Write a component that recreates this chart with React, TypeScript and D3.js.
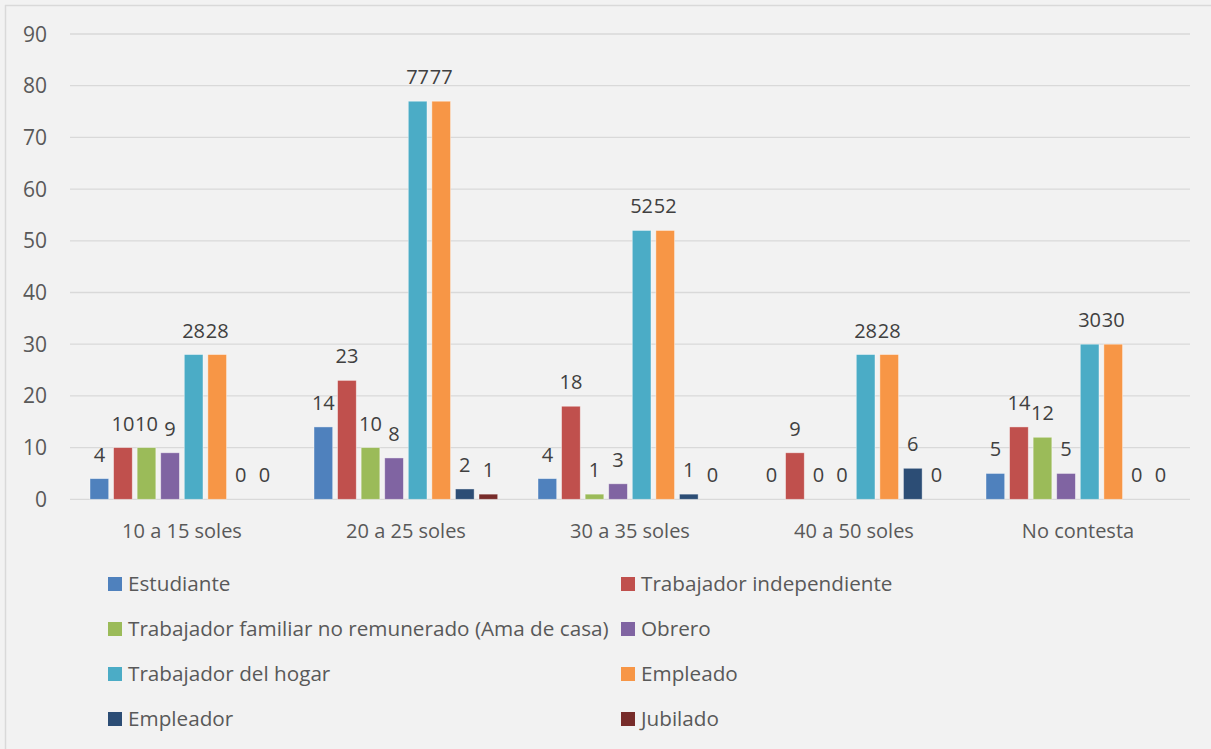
import React from "react";
import { scaleBand, scaleLinear, range } from "d3";

const categories = ["10 a 15 soles", "20 a 25 soles", "30 a 35 soles", "40 a 50 soles", "No contesta"];

const seriesNames = [
  "Estudiante",
  "Trabajador independiente",
  "Trabajador familiar no remunerado (Ama de casa)",
  "Obrero",
  "Trabajador del hogar",
  "Empleado",
  "Empleador",
  "Jubilado",
];

const seriesColors = ["#4f81bd", "#c0504d", "#9bbb59", "#8064a2", "#4bacc6", "#f79646", "#2c4d75", "#772c2a"];

// one array per series, in category order
const estudiante = [4, 14, 4, 0, 5];
const independiente = [10, 23, 18, 9, 14];
const familiar = [10, 10, 1, 0, 12];
const obrero = [9, 8, 3, 0, 5];
const hogar = [28, 77, 52, 28, 30];
const empleado = [28, 77, 52, 28, 30];
const empleador = [0, 2, 1, 6, 0];
const jubilado = [0, 1, 0, 0, 0];

const seriesValues = [estudiante, independiente, familiar, obrero, hogar, empleado, empleador, jubilado];

const yTicks = range(0, 100, 10);

const W = 1211;
const H = 749;
const FONT = "'Open Sans', sans-serif";

const App = () => {
  const x0 = scaleBand<string>().domain(categories).range([70, 1190]);
  const x1 = scaleBand<number>()
    .domain(range(seriesNames.length))
    .range([20, 203.7])
    .paddingInner(0.207);
  const y = scaleLinear().domain([0, 90]).range([499.3, 34]);

  return (
    <div style={{ position: "absolute", left: 0, top: 0 }}>
      <svg width={W} height={H} style={{ display: "block", fontFamily: FONT }}>
        <rect x={0} y={0} width={W} height={H} fill="#f2f2f2" />
        <line x1={5.5} x2={5.5} y1={5} y2={H} stroke="#d9d9d9" strokeWidth={1.5} />
        <line x1={5} x2={W} y1={5.5} y2={5.5} stroke="#d9d9d9" strokeWidth={1.5} />

        {/* grid + y labels */}
        {yTicks.map((t) => (
          <g key={t}>
            <line x1={70} x2={1190} y1={y(t)} y2={y(t)} stroke="#d9d9d9" strokeWidth={1.3} />
            <text x={47} y={y(t) + 7.5} textAnchor="end" fontSize={21} fill="#595959">
              {t}
            </text>
          </g>
        ))}

        {/* bars */}
        {categories.map((c, ci) => (
          <g key={c} transform={`translate(${x0(c)},0)`}>
            {seriesValues.map((vals, si) => {
              const v = vals[ci];
              return (
                <rect
                  key={si}
                  x={x1(si)!}
                  y={y(v)}
                  width={x1.bandwidth()}
                  height={y(0) - y(v)}
                  fill={seriesColors[si]}
                  stroke="#ffffff"
                  strokeOpacity={0.5}
                  strokeWidth={0.8}
                />
              );
            })}
            {seriesValues.map((vals, si) => {
              const v = vals[ci];
              return (
                <text
                  key={"l" + si}
                  x={x1(si)! + x1.bandwidth() / 2}
                  y={y(v) - 17}
                  textAnchor="middle"
                  fontSize={20}
                  fill="#404040"
                >
                  {v}
                </text>
              );
            })}
            <text
              x={x0.bandwidth() / 2}
              y={538}
              textAnchor="middle"
              fontSize={20}
              fill="#595959"
            >
              {c}
            </text>
          </g>
        ))}

        {/* legend: two columns, four rows */}
        {seriesNames.map((name, i) => {
          const col = i % 2;
          const row = Math.floor(i / 2);
          const lx = col === 0 ? 108 : 621;
          const base = 591 + row * 45;
          return (
            <g key={name}>
              <rect x={lx} y={base - 14} width={14} height={14} fill={seriesColors[i]} />
              <text x={lx + 20} y={base} fontSize={20.7} fill="#595959">
                {name}
              </text>
            </g>
          );
        })}
      </svg>
    </div>
  );
};

export default App;
